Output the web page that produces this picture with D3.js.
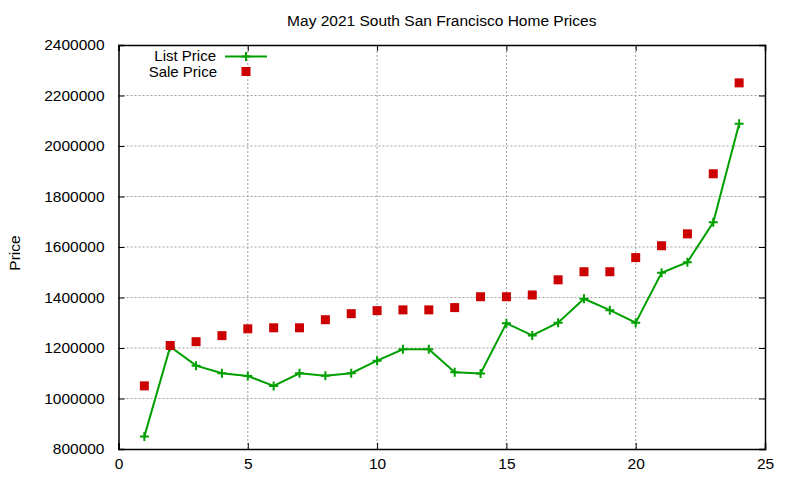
<!DOCTYPE html>
<html>
<head>
<meta charset="utf-8">
<script src="https://cdn.jsdelivr.net/npm/d3@7"></script>
<style>
  body { margin: 0; background: #fff; }
  text { font-family: "Liberation Sans", Arial, sans-serif; fill: #000; }
</style>
</head>
<body>
<div id="chart"></div>
<script>
// house number along the x axis
var houses = [1, 2, 3, 4, 5, 6, 7, 8, 9, 10, 11, 12, 13, 14, 15, 16, 17, 18, 19, 20, 21, 22, 23, 24];

var listPrice = [850000, 1205000, 1130000, 1100000, 1089000, 1050000, 1100000, 1090000,
    1100000, 1150000, 1195000, 1195000, 1104000, 1099000, 1298000, 1250000, 1300000,
    1395000, 1350000, 1300000, 1498000, 1540000, 1698000, 2088000];

var salePrice = [1050000, 1210000, 1225000, 1249000, 1276000, 1280000, 1280000, 1312000,
    1336000, 1348000, 1351000, 1351000, 1360000, 1403000, 1403000, 1410000, 1470000,
    1502000, 1502000, 1558000, 1605000, 1652000, 1890000, 2250000];

var xTicks = [0, 5, 10, 15, 20, 25];
var yTicks = [800000, 1000000, 1200000, 1400000, 1600000, 1800000, 2000000, 2200000, 2400000];

var width = 800, height = 480;
var margin = {top: 45, right: 35, bottom: 31, left: 118.5};
var fontSize = "15.5px";

var svg = d3.select("#chart")
    .append("svg")
    .attr("width", width)
    .attr("height", height);

var x = d3.scaleLinear().domain([0, 25]).range([margin.left, width - margin.right]);
var y = d3.scaleLinear().domain([800000, 2400000]).range([height - margin.bottom, margin.top]);

// dotted grid
svg.append("g").selectAll("line")
    .data(xTicks.slice(1, -1))
    .enter().append("line")
    .attr("x1", function(d) { return x(d); })
    .attr("x2", function(d) { return x(d); })
    .attr("y1", y(800000))
    .attr("y2", y(2400000))
    .attr("stroke", "#a0a0a0")
    .attr("stroke-dasharray", "2,2");

svg.append("g").selectAll("line")
    .data(yTicks.slice(1, -1))
    .enter().append("line")
    .attr("x1", x(0))
    .attr("x2", x(25))
    .attr("y1", function(d) { return y(d); })
    .attr("y2", function(d) { return y(d); })
    .attr("stroke", "#a0a0a0")
    .attr("stroke-dasharray", "2,2");

// axes, ticks pointing inward like gnuplot, mirrored on top and right
var tickLen = 6;
svg.append("g")
    .attr("transform", "translate(0," + y(800000) + ")")
    .call(d3.axisBottom(x).tickValues(xTicks).tickSize(-tickLen).tickPadding(9).tickFormat(d3.format("d")));
svg.append("g")
    .attr("transform", "translate(0," + y(2400000) + ")")
    .call(d3.axisTop(x).tickValues(xTicks).tickSize(-tickLen).tickFormat(""));
svg.append("g")
    .attr("transform", "translate(" + x(0) + ",0)")
    .call(d3.axisLeft(y).tickValues(yTicks).tickSize(-tickLen).tickPadding(14).tickFormat(d3.format("d")));
svg.append("g")
    .attr("transform", "translate(" + x(25) + ",0)")
    .call(d3.axisRight(y).tickValues(yTicks).tickSize(-tickLen).tickFormat(""));

svg.selectAll(".domain").attr("stroke", "#000").attr("stroke-width", 1.5);
svg.selectAll(".tick line").attr("stroke", "#000");
svg.selectAll(".tick text").style("font-size", fontSize).style("font-family", "Liberation Sans, Arial, sans-serif");

// title and y label
svg.append("text")
    .attr("x", x(12.5))
    .attr("y", 26)
    .attr("text-anchor", "middle")
    .style("font-size", fontSize)
    .text("May 2021 South San Francisco Home Prices");

svg.append("text")
    .attr("transform", "translate(20,253) rotate(-90)")
    .attr("text-anchor", "middle")
    .style("font-size", fontSize)
    .text("Price");

// list price line with + markers
var green = "#00a000", red = "#cc0000";

var line = d3.line()
    .x(function(d, i) { return x(houses[i]); })
    .y(function(d) { return y(d); });

svg.append("path")
    .datum(listPrice)
    .attr("d", line)
    .attr("fill", "none")
    .attr("stroke", green)
    .attr("stroke-width", 2);

function plusPath(cx, cy, r) {
    return "M" + (cx - r) + "," + cy + "H" + (cx + r) + "M" + cx + "," + (cy - r) + "V" + (cy + r);
}

svg.append("g").selectAll("path")
    .data(listPrice)
    .enter().append("path")
    .attr("d", function(d, i) { return plusPath(x(houses[i]), y(d), 4.5); })
    .attr("stroke", green)
    .attr("stroke-width", 2);

// sale price squares
svg.append("g").selectAll("rect")
    .data(salePrice)
    .enter().append("rect")
    .attr("x", function(d, i) { return x(houses[i]) - 4.5; })
    .attr("y", function(d) { return y(d) - 4.5; })
    .attr("width", 9)
    .attr("height", 9)
    .attr("fill", red);

// legend
var legend = svg.append("g");
legend.append("text")
    .attr("x", 216).attr("y", 60.5)
    .attr("text-anchor", "end")
    .style("font-size", "15px")
    .text("List Price");
legend.append("line")
    .attr("x1", 225).attr("x2", 267)
    .attr("y1", 56.5).attr("y2", 56.5)
    .attr("stroke", green).attr("stroke-width", 2);
legend.append("path")
    .attr("d", plusPath(246, 56.5, 4.5))
    .attr("stroke", green).attr("stroke-width", 2);
legend.append("text")
    .attr("x", 217).attr("y", 77)
    .attr("text-anchor", "end")
    .style("font-size", "15px")
    .text("Sale Price");
legend.append("rect")
    .attr("x", 241.5).attr("y", 67)
    .attr("width", 9).attr("height", 9)
    .attr("fill", red);
</script>
</body>
</html>
